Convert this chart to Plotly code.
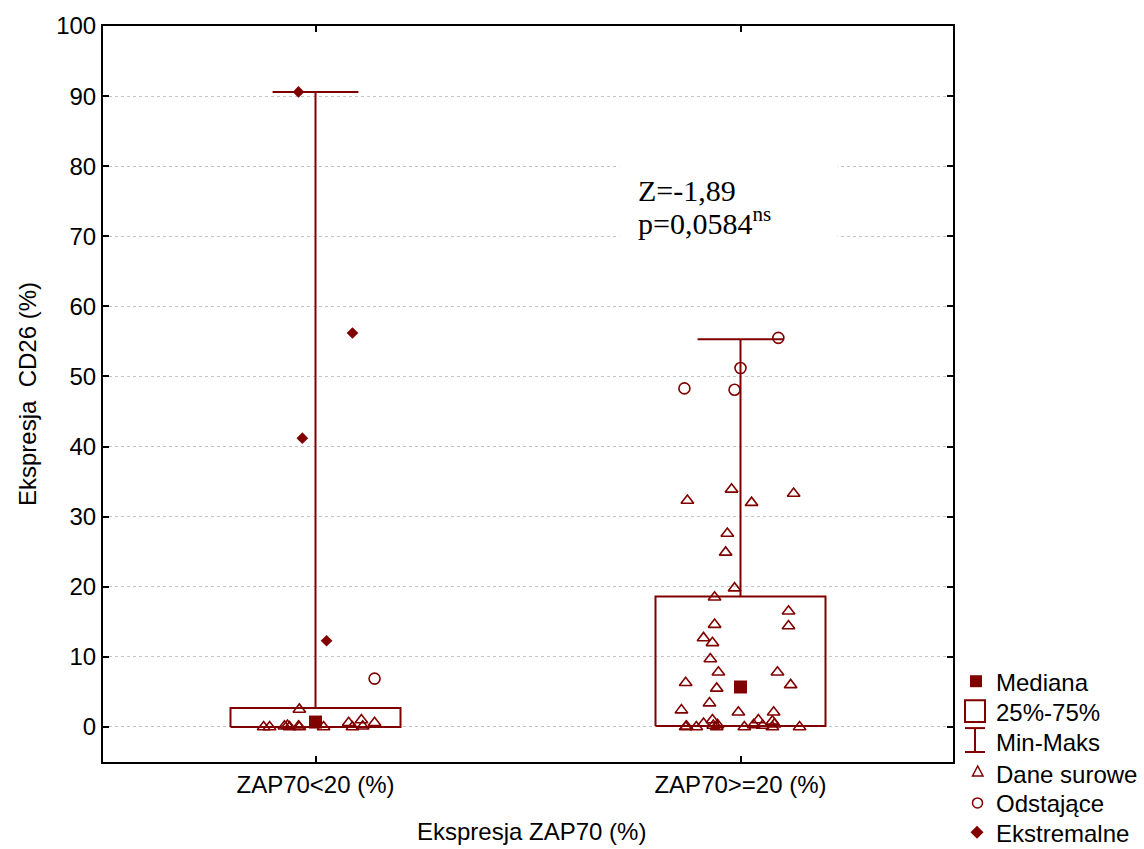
import plotly.graph_objects as go

# ---------------- data ----------------
categories = ["ZAP70<20 (%)", "ZAP70>=20 (%)"]
q1 = [0.0, 0.15]
median = [0.7, 5.7]
q3 = [2.7, 18.6]
w_min = [0.0, 0.0]
w_max = [90.6, 55.3]

# raw data (Dane surowe) - values and horizontal jitter (category units)
raw_low_vals = [2.5, 0.0, 0.0, 0.1, 0.2, 0.0, 0.1, 0.0, 0.0, 0.6, 0.0, 1.0, 0.1, 0.6]
raw_low_jit = [-0.038, -0.122, -0.108, -0.073, -0.066, -0.061, -0.040, -0.038, 0.019,
               0.078, 0.087, 0.108, 0.111, 0.139]
raw_high_vals = [32.3, 33.9, 32.0, 33.3, 27.6, 24.9, 19.8, 18.5, 16.5, 14.6, 14.4, 12.7,
                 12.0, 9.7, 7.8, 7.8, 6.3, 6.0, 5.5, 3.4, 2.4, 2.1, 2.1,
                 0.0, 0.1, 0.0, 0.5, 1.0, 0.2, 0.0, 0.3, 0.0, 0.3, 1.0, 0.2, 0.8, 0.0, 0.4, 0.0]
raw_high_jit = [-0.125, -0.021, 0.026, 0.125, -0.031, -0.035, -0.014, -0.061, 0.113, -0.061,
                0.113, -0.087, -0.066, -0.071, -0.052, 0.087, -0.129, 0.118, -0.056, -0.073,
                -0.139, -0.005, 0.078,
                -0.129, -0.127, -0.104, -0.087, -0.066, -0.064, -0.056, -0.054, 0.009, 0.031,
                0.042, 0.052, 0.075, 0.075, 0.080, 0.139]

# outliers (Odstające)
out_low_vals = [6.9]
out_low_jit = [0.139]
out_high_vals = [55.5, 51.2, 48.3, 48.1]
out_high_jit = [0.089, 0.0, -0.132, -0.014]

# extremes (Ekstremalne)
ext_low_vals = [90.6, 56.2, 41.2, 12.3]
ext_low_jit = [-0.040, 0.087, -0.031, 0.026]
ext_high_vals = []
ext_high_jit = []

y_ticks = list(range(0, 101, 10))
legend_labels = ["Mediana", "25%-75%", "Min-Maks", "Dane surowe", "Odstające", "Ekstremalne"]
stat_lines = ["Z=-1,89", "p=0,0584<sup>ns</sup>"]
x_title = "Ekspresja ZAP70 (%)"
y_title = "Ekspresja  CD26 (%)"

# ---------------- style ----------------
RED = "#800000"
BOX_HW = 0.2
CAP_HW = 0.101
SANS = "Arial, Liberation Sans, sans-serif"
SERIF = "Times New Roman, Liberation Serif, serif"

fig = go.Figure()

for i in range(len(categories)):
    fig.add_trace(go.Scatter(
        x=[i - BOX_HW, i + BOX_HW, i + BOX_HW, i - BOX_HW, i - BOX_HW],
        y=[q1[i], q1[i], q3[i], q3[i], q1[i]],
        mode="lines", line=dict(color=RED, width=2), hoverinfo="skip", showlegend=False))
    fig.add_trace(go.Scatter(
        x=[i, i, None, i - CAP_HW, i + CAP_HW, None, i, i],
        y=[q3[i], w_max[i], None, w_max[i], w_max[i], None, q1[i], w_min[i]],
        mode="lines", line=dict(color=RED, width=2), hoverinfo="skip", showlegend=False))

groups = [
    (0, raw_low_vals, raw_low_jit, out_low_vals, out_low_jit, ext_low_vals, ext_low_jit),
    (1, raw_high_vals, raw_high_jit, out_high_vals, out_high_jit, ext_high_vals, ext_high_jit),
]
for c, rv, rj, ov, oj, ev, ej in groups:
    fig.add_trace(go.Scatter(
        x=[c + j for j in rj], y=rv, mode="markers",
        marker=dict(symbol="triangle-up-open", size=11, color=RED, line=dict(width=1.6, color=RED)),
        showlegend=False))
    fig.add_trace(go.Scatter(
        x=[c + j for j in oj], y=ov, mode="markers",
        marker=dict(symbol="circle-open", size=11, color=RED, line=dict(width=1.6, color=RED)),
        showlegend=False))
    if ev:
        fig.add_trace(go.Scatter(
            x=[c + j for j in ej], y=ev, mode="markers",
            marker=dict(symbol="diamond", size=9, color=RED, line=dict(width=0)),
            showlegend=False))

fig.add_trace(go.Scatter(
    x=list(range(len(categories))), y=median, mode="markers",
    marker=dict(symbol="square", size=13, color=RED, line=dict(width=0)),
    showlegend=False))

# ---------------- layout ----------------
W, H = 1144, 849
L, R, T, B = 103, 191, 24, 87
PW, PH = W - L - R, H - T - B


def px(x):
    return (x - L) / PW


def py(y):
    return (H - B - y) / PH


axis_common = dict(showline=True, mirror="ticks", linecolor="black", linewidth=2,
                   ticks="inside", ticklen=6, tickwidth=2, tickcolor="black",
                   tickfont=dict(family=SANS, size=24, color="black"), zeroline=False)

fig.update_layout(
    width=W, height=H,
    margin=dict(l=L, r=R, t=T, b=B),
    paper_bgcolor="white", plot_bgcolor="white",
    xaxis=dict(range=[-0.5, 1.5], tickvals=list(range(len(categories))), ticktext=categories,
               showgrid=False, **axis_common),
    yaxis=dict(range=[-5, 100], tickvals=y_ticks, ticktext=[str(v) for v in y_ticks],
               showgrid=True, gridcolor="#c4c4c4", griddash="dot", gridwidth=1, **axis_common),
    showlegend=False,
)

shapes = []
annotations = []

# white box behind the statistics text
shapes.append(dict(type="rect", xref="x", yref="y", x0=0.715, x1=1.228, y0=68.6, y1=80.7,
                   fillcolor="white", line=dict(width=0), layer="between"))
annotations.append(dict(xref="x", yref="y", x=0.754, y=76.6, xanchor="left", yanchor="middle",
                        text=stat_lines[0], showarrow=False,
                        font=dict(family=SERIF, size=30, color="black")))
annotations.append(dict(xref="x", yref="y", x=0.754, y=72.2, xanchor="left", yanchor="middle",
                        text=stat_lines[1], showarrow=False,
                        font=dict(family=SERIF, size=30, color="black")))

# axis titles
annotations.append(dict(xref="paper", yref="paper", x=px(531), y=py(832), xanchor="center",
                        yanchor="middle", text=x_title, showarrow=False,
                        font=dict(family=SANS, size=24, color="black")))
annotations.append(dict(xref="paper", yref="paper", x=px(27), y=py(393), xanchor="center",
                        yanchor="middle", text=y_title, showarrow=False, textangle=-90,
                        font=dict(family=SANS, size=24, color="black")))

# custom legend
# median square
shapes.append(dict(type="rect", xref="paper", yref="paper", x0=px(970), x1=px(982),
                   y0=py(687), y1=py(675), fillcolor=RED, line=dict(width=0)))
# box
shapes.append(dict(type="rect", xref="paper", yref="paper", x0=px(965), x1=px(985),
                   y0=py(722), y1=py(700), fillcolor="rgba(0,0,0,0)", line=dict(color=RED, width=2)))
# whisker
for (x0, y0, x1, y1) in [(965, 728, 985, 728), (965, 752, 985, 752), (975, 728, 975, 752)]:
    shapes.append(dict(type="line", xref="paper", yref="paper", x0=px(x0), y0=py(y0),
                       x1=px(x1), y1=py(y1), line=dict(color=RED, width=2)))
# triangle
tri = "M {} {} L {} {} L {} {} Z".format(px(972.5), py(776), px(983), py(776), px(977.7), py(766))
shapes.append(dict(type="path", xref="paper", yref="paper", path=tri,
                   fillcolor="white", line=dict(color=RED, width=1.5)))
# circle
shapes.append(dict(type="circle", xref="paper", yref="paper", x0=px(972.5), x1=px(982.5),
                   y0=py(808), y1=py(798), fillcolor="white", line=dict(color=RED, width=1.5)))
# diamond
dia = "M {} {} L {} {} L {} {} L {} {} Z".format(px(970.5), py(832.5), px(977), py(826),
                                                  px(983.5), py(832.5), px(977), py(839))
shapes.append(dict(type="path", xref="paper", yref="paper", path=dia,
                   fillcolor=RED, line=dict(width=0)))

legend_y = [682, 712, 742, 775, 804, 834]
for lab, yy in zip(legend_labels, legend_y):
    annotations.append(dict(xref="paper", yref="paper", x=px(994), y=py(yy), xanchor="left",
                            yanchor="middle", text=lab, showarrow=False,
                            font=dict(family=SANS, size=24, color="black")))

fig.update_layout(shapes=shapes, annotations=annotations)
fig.write_html("out.html")
